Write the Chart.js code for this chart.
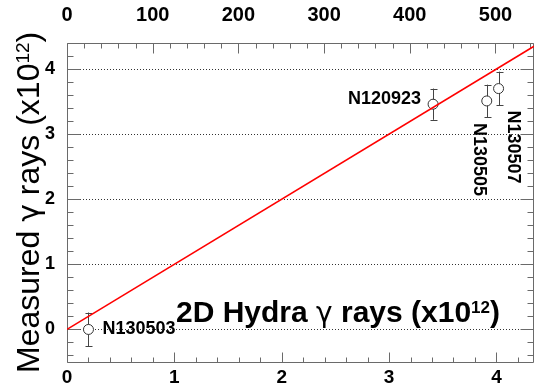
<!DOCTYPE html>
<html>
<head>
<meta charset="utf-8">
<script src="https://cdn.jsdelivr.net/npm/chart.js@4.4.0/dist/chart.umd.min.js"></script>
<style>
  html, body { margin: 0; padding: 0; background: #fff; }
  #wrap { width: 535px; height: 383px; position: relative; }
</style>
</head>
<body>
<div id="wrap"><canvas id="chart"></canvas></div>
<script>
const pointNames = ["N130503", "N120923", "N130505", "N130507"];
const hydraValues = [0.2, 3.41, 3.91, 4.02];
const measuredValues = [0.0, 3.46, 3.51, 3.70];
const measuredErrors = [0.26, 0.24, 0.25, 0.26];
const unityLineX = [0, 4.35];
const unityLineY = [0, 4.35];
const xTickValues = [0, 1, 2, 3, 4];
const yTickValues = [0, 1, 2, 3, 4];
const topTickValues = [0, 100, 200, 300, 400, 500];

const FONT = "'Liberation Sans', Arial, Helvetica, sans-serif";
const GREEK = "'DejaVu Sans', sans-serif";
const frameColor = "#6a6a6a";

// label placement relative to the marker, in px
const labelPlacement = {
  N130503: { dx: 14, dy: 0, align: "left", rotate: false },
  N120923: { dx: -12, dy: -5, align: "right", rotate: false },
  N130505: { dx: -8, dy: 22, align: "left", rotate: true },
  N130507: { dx: 14, dy: 22, align: "left", rotate: true }
};

function drawParts(ctx, parts) {
  let cx = 0;
  parts.forEach((p) => {
    ctx.font = p.font;
    ctx.fillText(p.text, cx, p.dy || 0);
    cx += ctx.measureText(p.text).width;
  });
}

const framePlugin = {
  id: "frame",
  beforeDatasetsDraw(chart) {
    const { ctx, chartArea: a, scales } = chart;
    const { x, y, x2 } = scales;
    const r = (v) => Math.round(v) + 0.5;
    const right = Math.round(a.right) - 0.5;
    ctx.save();

    // dotted grid lines at major y values
    ctx.strokeStyle = "#333";
    ctx.lineWidth = 1;
    ctx.setLineDash([1, 2]);
    yTickValues.forEach((v) => {
      const py = r(y.getPixelForValue(v));
      ctx.beginPath();
      ctx.moveTo(a.left + 13, py);
      ctx.lineTo(a.right - 13, py);
      ctx.stroke();
    });
    ctx.setLineDash([]);

    // frame
    ctx.strokeStyle = frameColor;
    ctx.beginPath();
    ctx.moveTo(r(a.left), r(a.top));
    ctx.lineTo(right, r(a.top));
    ctx.lineTo(right, r(a.bottom));
    ctx.lineTo(r(a.left), r(a.bottom));
    ctx.closePath();
    ctx.stroke();

    // y ticks, both sides
    ctx.beginPath();
    for (let i = -2; i <= 22; i++) {
      const py = r(y.getPixelForValue(i / 5));
      if (py < a.top || py > a.bottom) continue;
      const len = i % 5 === 0 ? 13 : 6;
      ctx.moveTo(r(a.left), py);
      ctx.lineTo(r(a.left) + len, py);
      ctx.moveTo(right, py);
      ctx.lineTo(right - len, py);
    }
    // bottom ticks
    for (let i = 0; i <= 21; i++) {
      const px = r(x.getPixelForValue(i / 5));
      const len = i % 5 === 0 ? 10 : 5;
      ctx.moveTo(px, r(a.bottom));
      ctx.lineTo(px, r(a.bottom) - len);
    }
    // top ticks
    for (let i = 0; i <= 27; i++) {
      const px = r(x2.getPixelForValue(i * 20));
      if (px > a.right) continue;
      const len = i % 5 === 0 ? 10 : 5;
      ctx.moveTo(px, r(a.top));
      ctx.lineTo(px, r(a.top) + len);
    }
    ctx.stroke();

    // error bars
    ctx.strokeStyle = "#444";
    ctx.beginPath();
    hydraValues.forEach((hv, i) => {
      const px = r(x.getPixelForValue(hv));
      const y1 = y.getPixelForValue(measuredValues[i] + measuredErrors[i]);
      const y2 = y.getPixelForValue(measuredValues[i] - measuredErrors[i]);
      ctx.moveTo(px, y1);
      ctx.lineTo(px, y2);
      ctx.moveTo(px - 3, r(y1));
      ctx.lineTo(px + 4, r(y1));
      ctx.moveTo(px - 3, r(y2));
      ctx.lineTo(px + 4, r(y2));
    });
    ctx.stroke();
    ctx.restore();
  },
  afterDraw(chart) {
    const { ctx, scales } = chart;
    const { x, y } = scales;
    ctx.save();
    ctx.fillStyle = "#000";

    // point labels
    ctx.font = "bold 18px " + FONT;
    ctx.textBaseline = "middle";
    pointNames.forEach((name, i) => {
      const p = labelPlacement[name];
      const px = x.getPixelForValue(hydraValues[i]);
      const py = y.getPixelForValue(measuredValues[i]);
      ctx.save();
      ctx.translate(px + p.dx, py + p.dy);
      if (p.rotate) ctx.rotate(Math.PI / 2);
      ctx.textAlign = p.align;
      ctx.fillText(name, 0, 0);
      ctx.restore();
    });

    // x title inside the plot
    ctx.textAlign = "left";
    ctx.textBaseline = "alphabetic";
    ctx.save();
    ctx.translate(176, 322);
    drawParts(ctx, [
      { text: "2D Hydra ", font: "bold 30px " + FONT },
      { text: "\u03b3", font: "28px " + GREEK },
      { text: " rays (x10", font: "bold 30px " + FONT },
      { text: "12", font: "bold 17px " + FONT, dy: -9 },
      { text: ")", font: "bold 30px " + FONT }
    ]);
    ctx.restore();

    // y title
    ctx.save();
    ctx.translate(39, 373);
    ctx.rotate(-Math.PI / 2);
    drawParts(ctx, [
      { text: "Measured ", font: "32px " + FONT },
      { text: "\u03b3", font: "30px " + GREEK },
      { text: " rays (x10", font: "32px " + FONT },
      { text: "12", font: "19px " + FONT, dy: -10 },
      { text: ")", font: "32px " + FONT }
    ]);
    ctx.restore();
    ctx.restore();
  }
};

const tickFont = (size) => ({ family: FONT, size, weight: "bold" });
const noSidePadding = (s) => { s.paddingLeft = 0; s.paddingRight = 0; };

new Chart(document.getElementById("chart"), {
  type: "scatter",
  data: {
    datasets: [
      {
        type: "line",
        data: unityLineX.map((v, i) => ({ x: v, y: unityLineY[i] })),
        borderColor: "#ff0000",
        borderWidth: 1.5,
        pointRadius: 0,
        fill: false
      },
      {
        data: hydraValues.map((v, i) => ({ x: v, y: measuredValues[i] })),
        pointRadius: 5,
        pointBackgroundColor: "#fff",
        pointBorderColor: "#333",
        pointBorderWidth: 1
      }
    ]
  },
  options: {
    responsive: true,
    maintainAspectRatio: false,
    animation: false,
    events: [],
    layout: { autoPadding: false, padding: { right: 1, left: 0, top: 0, bottom: 0 } },
    plugins: { legend: { display: false }, tooltip: { enabled: false } },
    scales: {
      x: {
        type: "linear",
        position: "bottom",
        min: 0,
        max: 4.35,
        afterBuildTicks: (s) => { s.ticks = xTickValues.map((v) => ({ value: v })); },
        afterFit: (s) => { s.height = 21; noSidePadding(s); },
        grid: { display: false },
        border: { display: false },
        ticks: { font: tickFont(19), color: "#000", padding: -4, maxRotation: 0 }
      },
      x2: {
        type: "linear",
        position: "top",
        min: 0,
        max: 545,
        afterBuildTicks: (s) => { s.ticks = topTickValues.map((v) => ({ value: v })); },
        afterFit: (s) => { s.height = 43; noSidePadding(s); },
        grid: { display: false },
        border: { display: false },
        ticks: { font: tickFont(20), color: "#000", padding: 8, maxRotation: 0 }
      },
      y: {
        type: "linear",
        min: -0.5,
        max: 4.4,
        afterBuildTicks: (s) => { s.ticks = yTickValues.map((v) => ({ value: v })); },
        afterFit: (s) => { s.width = 67; },
        grid: { display: false },
        border: { display: false },
        ticks: { font: tickFont(18), color: "#000", padding: 4 }
      }
    }
  },
  plugins: [framePlugin]
});
</script>
</body>
</html>
